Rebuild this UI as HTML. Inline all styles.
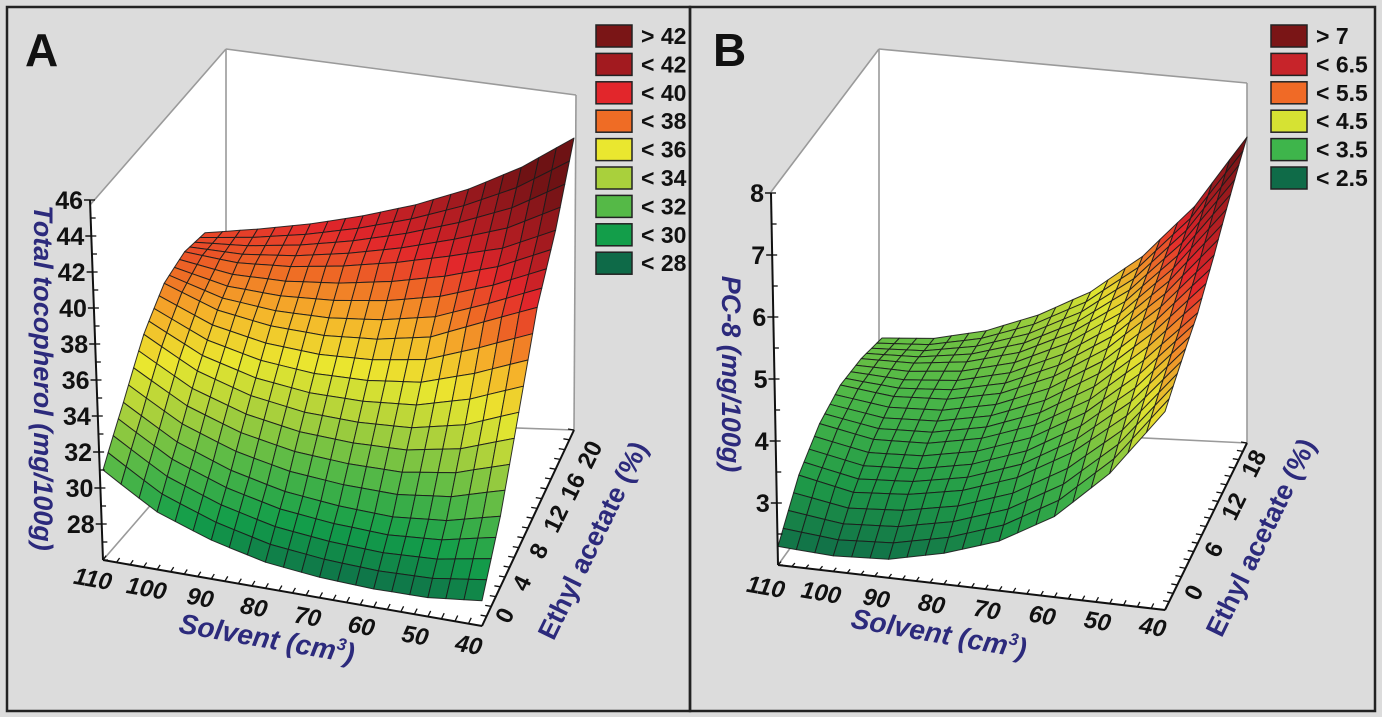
<!DOCTYPE html>
<html><head><meta charset="utf-8">
<style>
html,body{margin:0;padding:0;background:#dcdcdc;}
svg{display:block;font-family:"Liberation Sans",sans-serif;}
.tk{font-weight:bold;fill:#111;}
.ttl{font-weight:bold;fill:#2c2a7c;}
</style></head>
<body>
<svg id="fig" width="1382" height="717" viewBox="0 0 1382 717" xmlns="http://www.w3.org/2000/svg">
<rect x="0" y="0" width="1382" height="717" fill="#dcdcdc"/>
<rect x="7" y="7" width="683" height="704" fill="none" stroke="#222" stroke-width="2.5"/>
<rect x="690" y="7" width="685" height="704" fill="none" stroke="#222" stroke-width="2.5"/>
<g id="pa"></g>
<g id="pb"></g>
</svg>
<script>
// ---------- Panel A data ----------
const aSolvent = [110,100,90,80,70,60,50,40];
const aEthyl = [0,4,8,12,16,20];
const aZ0  = [31.0,29.3,28.3,27.6,27.3,27.2,27.3,27.8];
const aZ4  = [33.5,31.8,30.7,30.0,29.7,29.6,30.0,31.0];
const aZ8  = [36.3,34.6,33.6,33.1,33.0,33.2,34.0,35.5];
const aZ12 = [38.3,37.0,36.4,36.2,36.4,37.0,38.5,40.0];
const aZ16 = [39.2,38.7,38.7,39.0,39.5,40.2,41.0,42.5];
const aZ20 = [39.3,39.6,40.0,40.6,41.4,42.5,44.0,46.0];
const aZTicks = [28,30,32,34,36,38,40,42,44,46];
const aXTicks = [110,100,90,80,70,60,50,40];
const aETicks = [0,4,8,12,16,20];
const aLegend = ["> 42","< 42","< 40","< 38","< 36","< 34","< 32","< 30","< 28"];
const aLegendColors = ["#7a1516","#a21a1f","#e2262b","#ef6c25","#eae72f","#a9d03c","#55b947","#139e4a","#0e6a48"];
const aColorStops = [27,29,31,33,35,37,38.5,40,42,44];
const aColorVals = ["#0e6a48","#139e4a","#55b947","#a9d03c","#eae72f","#f5b12a","#ef6c25","#e2262b","#a21a1f","#6e1214"];

// ---------- Panel B data ----------
const bSolvent = [110,100,90,80,70,60,50,40];
const bEthyl = [0,4,8,12,16,20];
const bZ0  = [2.3,2.25,2.3,2.5,2.8,3.3,4.1,5.2];
const bZ4  = [3.1,2.9,2.95,3.1,3.4,3.9,4.6,5.6];
const bZ8  = [3.6,3.4,3.4,3.55,3.85,4.35,5.1,6.0];
const bZ12 = [3.9,3.75,3.75,3.9,4.25,4.8,5.6,6.6];
const bZ16 = [4.0,3.95,4.0,4.2,4.6,5.2,6.1,7.3];
const bZ20 = [4.0,4.0,4.15,4.45,4.9,5.6,6.6,8.0];
const bZTicks = [3,4,5,6,7,8];
const bXTicks = [110,100,90,80,70,60,50,40];
const bETicks = [0,6,12,18];
const bLegend = ["> 7","< 6.5","< 5.5","< 4.5","< 3.5","< 2.5"];
const bLegendColors = ["#7a1516","#c7242a","#f06a26","#d6e233","#3eb54b","#0f6b48"];
const bColorStops = [2.2,3.0,3.8,4.5,5.0,5.6,6.2,7.0,7.8];
const bColorVals = ["#0f6b48","#1f9a48","#4cb848","#a6d03a","#e2e430","#f08a28","#e2262b","#a81c20","#6a1214"];

const NS = "http://www.w3.org/2000/svg";
function mk(parent, tag, attrs){ const el=document.createElementNS(NS,tag); for(const k in attrs) el.setAttribute(k,attrs[k]); parent.appendChild(el); return el; }
function hex(c){return [parseInt(c.slice(1,3),16),parseInt(c.slice(3,5),16),parseInt(c.slice(5,7),16)];}
function colorFor(z, stops, vals){
  if(z<=stops[0]) return vals[0];
  for(let i=1;i<stops.length;i++){
    if(z<=stops[i]){const t=(z-stops[i-1])/(stops[i]-stops[i-1]);const a=hex(vals[i-1]),b=hex(vals[i]);
      return "rgb("+a.map((v,k)=>Math.round(v+(b[k]-v)*t)).join(",")+")";}
  }
  return vals[vals.length-1];
}

function drawPanel(g, cfg){
  const {FL,FR,BR,BL,K,zmin,xmax,xmin,emax} = cfg;
  function proj(x,e,z){
    const u=(xmax-x)/(xmax-xmin), v=e/emax;
    const w=[(1-u)*(1-v),u*(1-v),u*v,(1-u)*v];
    const px=w[0]*FL[0]+w[1]*FR[0]+w[2]*BR[0]+w[3]*BL[0];
    const py=w[0]*FL[1]+w[1]*FR[1]+w[2]*BR[1]+w[3]*BL[1];
    const k=w[0]*K[0]+w[1]*K[1]+w[2]*K[2]+w[3]*K[3];
    return [px, py-(z-zmin)*k];
  }
  let el = mk(g,"polygon",{points:cfg.hull.map(p=>p.join(",")).join(" "),fill:"#fff"});
  
  
  cfg.boxLines.forEach(l=>{
    el=mk(g,"line",{x1:l[0],y1:l[1],x2:l[2],y2:l[3],stroke:"#9a9a9a","stroke-width":1.6});
    
    
  });
  const X=cfg.xs, E=cfg.es, Z=cfg.zs, sx=3, se=4;
  const surf=mk(g,"g",{});
  
  
  function zAt(i,j,a,b){return Z[j][i]*(1-a)*(1-b)+Z[j][i+1]*a*(1-b)+Z[j+1][i]*(1-a)*b+Z[j+1][i+1]*a*b;}
  for(let j=E.length-2;j>=0;j--){
    for(let sb=se-1;sb>=0;sb--){
      for(let i=0;i<X.length-1;i++){
        for(let sa=0;sa<sx;sa++){
          const a0=sa/sx,a1=(sa+1)/sx,b0=sb/se,b1=(sb+1)/se;
          const xa=X[i]+(X[i+1]-X[i])*a0, xb=X[i]+(X[i+1]-X[i])*a1;
          const ea=E[j]+(E[j+1]-E[j])*b0, eb=E[j]+(E[j+1]-E[j])*b1;
          const pts=[proj(xa,ea,zAt(i,j,a0,b0)),proj(xb,ea,zAt(i,j,a1,b0)),proj(xb,eb,zAt(i,j,a1,b1)),proj(xa,eb,zAt(i,j,a0,b1))];
          const zc=zAt(i,j,(a0+a1)/2,(b0+b1)/2);
          const c=mk(surf,"polygon",{points:pts.map(p=>p[0].toFixed(1)+","+p[1].toFixed(1)).join(" "),fill:colorFor(zc,cfg.stops,cfg.vals),stroke:"#1c1c1c","stroke-width":1,"stroke-opacity":0.9,"stroke-linejoin":"round"});
          
          
        }
      }
    }
  }
  const fl=proj(xmax,0,zmin), fr=proj(xmin,0,zmin), br=proj(xmin,emax,zmin);
  const ztop=proj(xmax,0,cfg.ztop);
  [[fl,fr,'x-axis-line'],[fr,br,'e-axis-line'],[fl,[ztop[0]-cfg.zslant,ztop[1]],'z-axis-line']].forEach(a=>{
    el=mk(g,"line",{x1:a[0][0],y1:a[0][1],x2:a[1][0],y2:a[1][1],stroke:"#111","stroke-width":2});
    
    
  });
  for(let x=xmax;x>=xmin-0.01;x-=2.5){
    const p=proj(x,0,zmin), q=proj(x,0.6*emax/20,zmin);
    el=mk(g,"line",{x1:p[0],y1:p[1],x2:q[0],y2:q[1],stroke:"#111","stroke-width":1.3});
    
    
  }
  for(let e=0;e<=emax+0.01;e+=emax/20){
    const p=proj(xmin,e,zmin);
    el=mk(g,"line",{x1:p[0],y1:p[1],x2:p[0]-6,y2:p[1]-1,stroke:"#111","stroke-width":1.3});
    
    
  }
  const zt=cfg.zticks;
  const zstep=(zt[1]-zt[0])/2;
  for(let z=zmin;z<=cfg.ztop+0.001;z+=zstep){
    const f=(z-zmin)/(cfg.ztop-zmin);
    const p=proj(xmax,0,z); const xx=p[0]-cfg.zslant*f;
    el=mk(g,"line",{x1:xx,y1:p[1],x2:xx+5,y2:p[1],stroke:"#111","stroke-width":1.3});
    
    
  }
  zt.forEach(z=>{
    const f=(z-zmin)/(cfg.ztop-zmin);
    const p=proj(xmax,0,z); const xx=p[0]-cfg.zslant*f;
    el=mk(g,"line",{x1:xx-6,y1:p[1],x2:xx,y2:p[1],stroke:"#111","stroke-width":1.5});
    
    
    const t=mk(g,"text",{x:xx-7,y:p[1]+9,"text-anchor":"end","font-size":25,class:"tk"});
    t.textContent=z;
    
    
  });
  cfg.xticks.forEach(x=>{
    const f=(xmax-x)/(xmax-xmin);
    const cx=cfg.xl0[0]+(cfg.xl1[0]-cfg.xl0[0])*f, cy=cfg.xl0[1]+(cfg.xl1[1]-cfg.xl0[1])*f;
    const t=mk(g,"text",{x:cx,y:cy+9,"text-anchor":"middle","font-size":24,"font-style":"italic",class:"tk",transform:`rotate(10 ${cx} ${cy})`});
    t.textContent=x;
    
    
  });
  cfg.eticks.forEach(e=>{
    const f=e/cfg.elabMax;
    const cx=cfg.el0[0]+(cfg.el1[0]-cfg.el0[0])*f, cy=cfg.el0[1]+(cfg.el1[1]-cfg.el0[1])*f;
    const t=mk(g,"text",{x:cx,y:cy+9,"text-anchor":"middle","font-size":24,class:"tk",transform:`rotate(-64 ${cx} ${cy})`});
    t.textContent=e;
    
    
  });
  let t=mk(g,"text",{x:cfg.st[0],y:cfg.st[1]+10,"text-anchor":"middle","font-size":28,"font-style":"italic",class:"ttl",transform:`rotate(10 ${cfg.st[0]} ${cfg.st[1]})`});
  t.innerHTML='Solvent (cm<tspan font-size="17" dy="-11">3</tspan><tspan dy="11">)</tspan>';
  
  
  t=mk(g,"text",{x:cfg.et[0],y:cfg.et[1]+10,"text-anchor":"middle","font-size":27,class:"ttl",transform:`rotate(-64 ${cfg.et[0]} ${cfg.et[1]})`});
  t.textContent="Ethyl acetate (%)";
  
  
  t=mk(g,"text",{x:cfg.zt[0],y:cfg.zt[1]+9,"text-anchor":"middle","font-size":cfg.ztSize,"font-style":"italic",class:"ttl",transform:`rotate(90 ${cfg.zt[0]} ${cfg.zt[1]})`});
  t.textContent=cfg.zTitle;
  
  
  t=mk(g,"text",{x:cfg.letter[0],y:cfg.letter[1],"font-size":46,"font-weight":"bold",fill:"#111"});
  t.textContent=cfg.letterText;
  
  
  const lg=mk(g,"g",{});
  
  
  cfg.legend.forEach((lab,i)=>{
    const y=cfg.lg[1]+i*28.4;
    const r=mk(lg,"rect",{x:cfg.lg[0],y:y,width:36,height:22,fill:cfg.legendColors[i],stroke:"#222","stroke-width":1.5});
    
    
    const tx=mk(lg,"text",{x:cfg.lg[0]+45,y:y+19,"font-size":23,class:"tk"});
    tx.textContent=lab;
    
    
  });
}

drawPanel(document.getElementById('pa'),{
  FL:[103,560],FR:[482,626],BR:[574,430],BL:[205,415],K:[18,14,14.6,13.7],
  zmin:26,ztop:46,zslant:13,xmax:110,xmin:40,emax:20,
  xs:aSolvent,es:aEthyl,zs:[aZ0,aZ4,aZ8,aZ12,aZ16,aZ20],
  stops:aColorStops,vals:aColorVals,
  hull:[[90,205],[226,49],[576,95],[574,430],[482,626],[103,560]],
  boxLines:[[90,205,226,49],[226,49,576,95],[576,95,574,430],[226,49,226,418],[226,418,574,430],[103,560,226,418]],
  zticks:aZTicks,xticks:aXTicks,eticks:aETicks,elabMax:20,
  xl0:[93,578],xl1:[469,644],el0:[504,615],el1:[589,454],
  st:[267,638],et:[592,540],zt:[43,378],zTitle:"Total tocopherol (mg/100g)",ztSize:27,
  letter:[25,66],letterText:"A",lg:[596,25],legend:aLegend,legendColors:aLegendColors
});
drawPanel(document.getElementById('pb'),{
  FL:[778,565],FR:[1165,610],BR:[1247,443],BL:[882,450],K:[62,62,51,56],
  zmin:2,ztop:8,zslant:7,xmax:110,xmin:40,emax:20,
  xs:bSolvent,es:bEthyl,zs:[bZ0,bZ4,bZ8,bZ12,bZ16,bZ20],
  stops:bColorStops,vals:bColorVals,
  hull:[[771,192],[879,49],[1247,83],[1247,443],[1165,610],[778,565]],
  boxLines:[[771,192,879,49],[879,49,1247,83],[1247,83,1247,443],[879,49,879,425],[879,425,1247,443],[778,565,879,425]],
  zticks:bZTicks,xticks:bXTicks,eticks:bETicks,elabMax:18,
  xl0:[766,586],xl1:[1153,626],el0:[1193,592],el1:[1253,463],
  st:[939,633],et:[1260,537],zt:[731,374],zTitle:"PC-8 (mg/100g)",ztSize:27,
  letter:[713,66],letterText:"B",lg:[1271,25],legend:bLegend,legendColors:bLegendColors
});
</script>
</body></html>
